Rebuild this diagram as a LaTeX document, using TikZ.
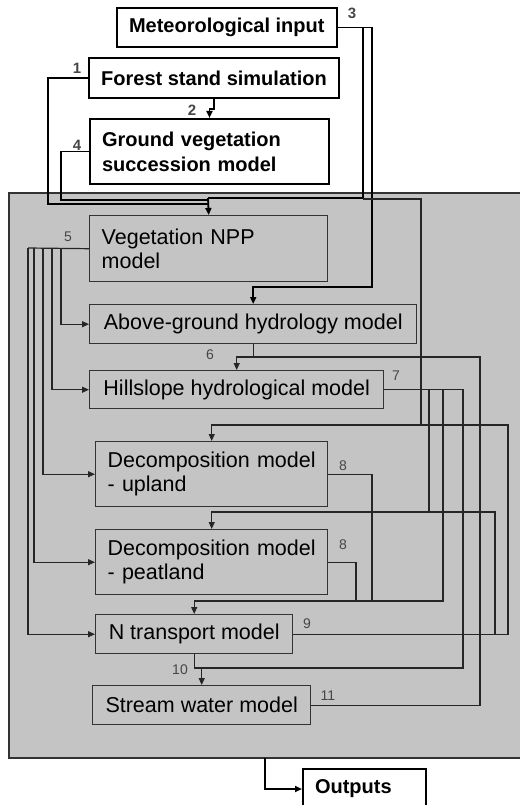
\documentclass[tikz,border=0pt]{standalone}
\usepackage{fontspec}
\setmainfont{Liberation Sans}
\usetikzlibrary{arrows.meta}
\definecolor{panel}{RGB}{196,196,196}
\definecolor{numgray}{RGB}{70,70,70}

\begin{document}
\begin{tikzpicture}[x=1pt,y=-1pt,
  inbox/.style={draw=black,line width=2pt,fill=white,anchor=north west,align=left,
    inner xsep=12pt,inner ysep=0pt,font=\fontsize{20}{25}\selectfont\bfseries},
  mbox/.style={draw=black!80,line width=1.4pt,anchor=north west,align=left,
    inner xsep=12pt,inner ysep=0pt,font=\fontsize{21.5}{24}\selectfont},
  num/.style={text=numgray,inner sep=0pt,font=\fontsize{14}{14}\selectfont},
  bnum/.style={num,font=\fontsize{15}{15}\selectfont\bfseries},
  link/.style={line width=1.2pt,draw=black!85},
  ilink/.style={line width=1.8pt,draw=black},
  arr/.style={-{Triangle[length=7pt,width=6pt]}}]
\useasboundingbox (0,0) rectangle (519,805);
% panel
\draw[fill=panel,draw=black!80,line width=1.4pt] (9,193) rectangle (540,758);
\coordinate (rb) at (265,758);
% input boxes
\node[inbox,minimum width=217pt,minimum height=39pt] (met) at (116,7) {Meteorological input};
\node[inbox,minimum width=250pt,minimum height=40pt] (forest) at (88,57) {Forest stand simulation};
\node[inbox,text width=215pt,minimum height=65pt] (ground) at (89,118) {Ground vegetation\\succession model};
\node[inbox,text width=99pt,minimum height=40pt] (out) at (302,768) {Outputs};
% models
\node[mbox,text width=214pt,minimum height=66pt] (npp) at (89,215) {Vegetation NPP\\model};
\node[mbox,minimum width=327pt,minimum height=39pt] (above) at (89,304) {Above-ground hydrology model};
\node[mbox,minimum width=294pt,minimum height=38pt] (hill) at (89,370) {Hillslope hydrological model};
\node[mbox,text width=208pt,minimum height=65pt] (decup) at (95,441) {Decomposition model\\- upland};
\node[mbox,text width=208pt,minimum height=65pt] (decpeat) at (95,529) {Decomposition model\\- peatland};
\node[mbox,minimum width=197pt,minimum height=39pt] (ntrans) at (95,614) {N transport model};
\node[mbox,minimum width=218pt,minimum height=39pt] (stream) at (92,685) {Stream water model};
% numbers
\node[bnum] (l3) at (352,13) {3};
\node[bnum] (l1) at (77,68) {1};
\node[bnum] (l2) at (192,110) {2};
\node[bnum] (l4) at (77,145) {4};
\node[num] (l5) at (68,237) {5};
\node[num] (l6) at (210,355) {6};
\node[num] (l7) at (396,376) {7};
\node[num] (l8a) at (343,466) {8};
\node[num] (l8b) at (343,545) {8};
\node[num] (l9) at (307,624) {9};
\node[num] (l10) at (180,670) {10};
\node[num] (l11) at (328,696) {11};
% inputs
\draw[ilink,arr] (forest.south) -- ++(0,10) -| (ground.north);
\draw[ilink] (forest.west) -| (48,204) -- (208,204);
\draw[ilink] (ground.west) -| (61,200) -- (208,200);
\draw[ilink] (met.east) -| (363,198) -- (208,198);
\draw[ilink,arr] (208,198) -- (npp.north);
\draw[ilink,arr] (met.east) -| (372,287) -| (above.north);
\draw[link] (363,199) -| (421,425);
% NPP outputs
\draw[link] (npp.west) -- (28,248);
\foreach \x/\t in {61/above,52/hill,43/decup,34/decpeat,28/ntrans}
  \draw[link,arr] (\x,248) |- (\t.west);
% hydrology
\draw[link] (above.south) -- ++(0,14);
\draw[link,arr] (stream.east) -| (480,357) -| (hill.north);
\draw[link,arr] (hill.east) -| (463,668) -| (stream.north);
\draw[link] (429,389) -- (429,512);
\draw[link,arr] (443,389) -- (443,601) -| (ntrans.north);
% decomposition and N
\draw[link] (decup.east) -| (372,601);
\draw[link] (decpeat.east) -| (356,601);
\draw[link,arr] (ntrans.east) -| (508,425) -| (decup.north);
\draw[link,arr] (495,633.5) -- (495,512) -| (decpeat.north);
\draw[link] (ntrans.south) |- (201,668);
% outputs
\draw[ilink,arr] (rb) |- (out.west);
\end{tikzpicture}
\end{document}
